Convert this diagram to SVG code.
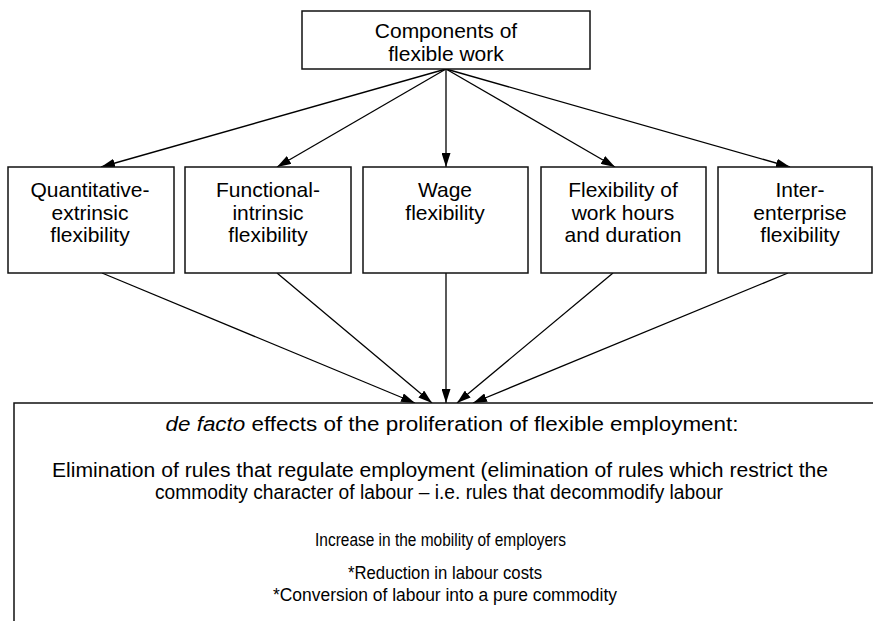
<svg xmlns="http://www.w3.org/2000/svg" width="873" height="621" viewBox="0 0 873 621">
<defs>
<marker id="ah" viewBox="0 0 14 10" refX="14" refY="5" markerWidth="14" markerHeight="9" markerUnits="userSpaceOnUse" orient="auto" preserveAspectRatio="none">
<path d="M0,0 L14,5 L0,10 Z" fill="#000"/>
</marker>
<style>
.box{fill:#fff;stroke:#111;stroke-width:1.5}
.t{font-family:"Liberation Sans",Arial,sans-serif;font-size:21px;fill:#000;text-anchor:middle}
.b{font-family:"Liberation Sans",Arial,sans-serif;font-size:20px;fill:#000;text-anchor:middle}
.s{font-family:"Liberation Sans",Arial,sans-serif;font-size:17.5px;fill:#000;text-anchor:middle}
.c{stroke:#000;stroke-width:1.3;fill:none;marker-end:url(#ah)}
</style>
</defs>
<rect width="873" height="621" fill="#fff"/>
<g id="connectors">
<line class="c" x1="446" y1="69" x2="101" y2="167"/>
<line class="c" x1="446" y1="69" x2="277" y2="167"/>
<line class="c" x1="446" y1="69" x2="446" y2="167"/>
<line class="c" x1="446" y1="69" x2="615" y2="167"/>
<line class="c" x1="446" y1="69" x2="790" y2="167"/>
<line class="c" x1="102" y1="273" x2="415" y2="403"/>
<line class="c" x1="277" y1="273" x2="432" y2="403"/>
<line class="c" x1="446" y1="273" x2="446" y2="403"/>
<line class="c" x1="613" y1="273" x2="457" y2="403"/>
<line class="c" x1="788" y1="273" x2="473" y2="403"/>
</g>
<g id="top">
<rect class="box" x="302" y="11" width="288" height="58"/>
<text class="t" x="446" y="38">Components of</text>
<text class="t" x="446" y="61">flexible work</text>
</g>
<g id="n1">
<rect class="box" x="8" y="167" width="166" height="106"/>
<text class="t" x="90" y="197">Quantitative-</text>
<text class="t" x="90" y="219.5">extrinsic</text>
<text class="t" x="90" y="242">flexibility</text>
</g>
<g id="n2">
<rect class="box" x="185" y="167" width="166" height="106"/>
<text class="t" x="268" y="197">Functional-</text>
<text class="t" x="268" y="219.5">intrinsic</text>
<text class="t" x="268" y="242">flexibility</text>
</g>
<g id="n3">
<rect class="box" x="363" y="167" width="165" height="106"/>
<text class="t" x="445" y="197">Wage</text>
<text class="t" x="445" y="219.5">flexibility</text>
</g>
<g id="n4">
<rect class="box" x="541" y="167" width="165" height="106"/>
<text class="t" x="623" y="197">Flexibility of</text>
<text class="t" x="623" y="219.5">work hours</text>
<text class="t" x="623" y="242">and duration</text>
</g>
<g id="n5">
<rect class="box" x="718" y="167" width="154" height="106"/>
<text class="t" x="800" y="197">Inter-</text>
<text class="t" x="800" y="219.5">enterprise</text>
<text class="t" x="800" y="242">flexibility</text>
</g>
<g id="bottom">
<rect class="box" x="14" y="403" width="880" height="240"/>
<text class="b" x="452" y="431" textLength="573" lengthAdjust="spacingAndGlyphs"><tspan font-style="italic">de facto</tspan> effects of the proliferation of flexible employment:</text>
<text class="b" x="440" y="477" textLength="776" lengthAdjust="spacingAndGlyphs">Elimination of rules that regulate employment (elimination of rules which restrict the</text>
<text class="b" x="439" y="499" textLength="568" lengthAdjust="spacingAndGlyphs">commodity character of labour – i.e. rules that decommodify labour</text>
<text class="s" x="440.5" y="546" textLength="251" lengthAdjust="spacingAndGlyphs">Increase in the mobility of employers</text>
<text class="s" x="445" y="579" textLength="194" lengthAdjust="spacingAndGlyphs">*Reduction in labour costs</text>
<text class="s" x="445" y="601" textLength="344" lengthAdjust="spacingAndGlyphs">*Conversion of labour into a pure commodity</text>
</g>
</svg>
